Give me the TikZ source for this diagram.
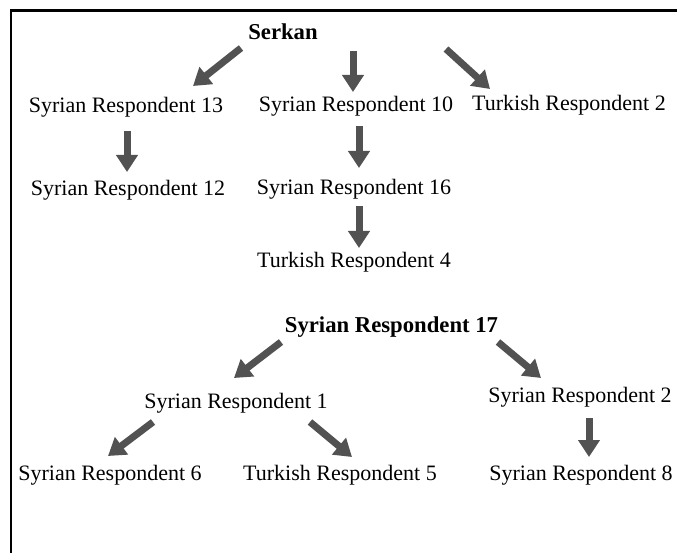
\documentclass[tikz,border=0pt]{standalone}
\usepackage{fontspec}
\setmainfont{Liberation Serif}
\usetikzlibrary{arrows.meta}
\definecolor{arrowgray}{HTML}{525252}
\tikzset{
  lbl/.style={font=\fontsize{22}{24}\selectfont, inner sep=0pt, text=black},
  blbl/.style={lbl, font=\fontsize{22.7}{24}\selectfont\bfseries},
  fatarrow/.style={draw=arrowgray, line width=7pt, -{Triangle[width=21pt,length=17pt]}},
  frame/.style={draw=black, line width=2.5pt}
}
\begin{document}
\begin{tikzpicture}[x=1pt,y=-1pt]
\useasboundingbox (0,0) rectangle (677,553);
\coordinate (f1) at (11,553);
\coordinate (f2) at (11,10.5);
\coordinate (f3) at (677,10.5);
\draw[frame] (f1) -- (f2) -- (f3);

\node[blbl] (serkan) at (283,32) {Serkan};
\node[lbl] (s13) at (126,107) {Syrian Respondent 13};
\node[lbl] (s10) at (356,106) {Syrian Respondent 10};
\node[lbl] (t2) at (569,105) {Turkish Respondent 2};
\node[lbl] (s12) at (128,190) {Syrian Respondent 12};
\node[lbl] (s16) at (354,189) {Syrian Respondent 16};
\node[lbl] (t4) at (354,262) {Turkish Respondent 4};
\node[blbl] (s17) at (391.5,327) {Syrian Respondent 17};
\node[lbl] (s1) at (236,403) {Syrian Respondent 1};
\node[lbl] (s2) at (580,397) {Syrian Respondent 2};
\node[lbl] (s6) at (110,475) {Syrian Respondent 6};
\node[lbl] (t5) at (340,475) {Turkish Respondent 5};
\node[lbl] (s8) at (581,475) {Syrian Respondent 8};

% arrow end points
\coordinate (a1s) at (241,48);  \coordinate (a1e) at (193,86);
\coordinate (a2s) at (353,51);  \coordinate (a2e) at (353,92);
\coordinate (a3s) at (446,49);  \coordinate (a3e) at (490,89);
\coordinate (a4s) at (127,131); \coordinate (a4e) at (127,172);
\coordinate (a5s) at (359,126); \coordinate (a5e) at (359,168);
\coordinate (a6s) at (359,206); \coordinate (a6e) at (359,248);
\coordinate (a7s) at (281,342); \coordinate (a7e) at (234,378);
\coordinate (a8s) at (498,342); \coordinate (a8e) at (541,378);
\coordinate (a9s) at (153,422); \coordinate (a9e) at (108,456);
\coordinate (a10s) at (310,422); \coordinate (a10e) at (352,457);
\coordinate (a11s) at (589,418); \coordinate (a11e) at (589,457);

\draw[fatarrow] (a1s) -- (a1e);
\draw[fatarrow] (a2s) -- (a2e);
\draw[fatarrow] (a3s) -- (a3e);
\draw[fatarrow] (a4s) -- (a4e);
\draw[fatarrow] (a5s) -- (a5e);
\draw[fatarrow] (a6s) -- (a6e);
\draw[fatarrow] (a7s) -- (a7e);
\draw[fatarrow] (a8s) -- (a8e);
\draw[fatarrow] (a9s) -- (a9e);
\draw[fatarrow] (a10s) -- (a10e);
\draw[fatarrow] (a11s) -- (a11e);
\end{tikzpicture}
\end{document}
